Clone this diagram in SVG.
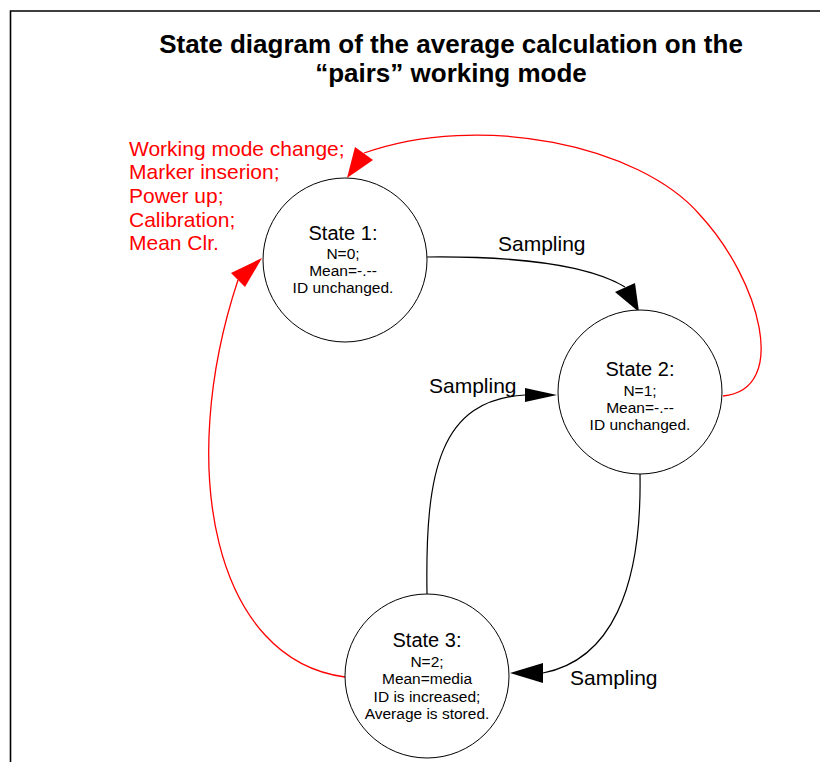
<svg xmlns="http://www.w3.org/2000/svg" width="830" height="762" viewBox="0 0 830 762">
  <style>
    .frame { fill: none; stroke: #000; stroke-width: 1.6; }
    .title { font-family: "Liberation Sans", Arial, sans-serif; font-size: 26px; font-weight: bold; fill: #000; text-anchor: middle; }
    .state { fill: #fff; stroke: #000; stroke-width: 1; }
    .head { font-family: "Liberation Sans", Arial, sans-serif; font-size: 20px; fill: #000; text-anchor: middle; }
    .body { font-family: "Liberation Sans", Arial, sans-serif; font-size: 15.5px; fill: #000; text-anchor: middle; }
    .lbl { font-family: "Liberation Sans", Arial, sans-serif; font-size: 21px; fill: #000; }
    .red-lbl { font-family: "Liberation Sans", Arial, sans-serif; font-size: 21px; fill: #ff0000; }
    .edge { fill: none; stroke: #000; stroke-width: 1.2; }
    .edge-red { fill: none; stroke: #ff0000; stroke-width: 1.3; }
    .tip { fill: #000; stroke: none; }
    .tip-red { fill: #ff0000; stroke: none; }
  </style>

  <rect x="0" y="0" width="830" height="762" fill="#fff"/>
  <!-- page frame: top and left edges only -->
  <path class="frame" d="M 10.5 762 L 10.5 11 L 820 11"/>

  <text class="title" x="451" y="53">State diagram of the average calculation on the</text>
  <text class="title" x="451" y="82">“pairs” working mode</text>

  <!-- transitions between the states -->
  <g id="connectors">
    <path class="edge" d="M 427 257 C 520 256, 590 266, 625 287"/>
    <polygon class="tip" points="639,312 615,292 635,283"/>
    <text class="lbl" x="498" y="251">Sampling</text>

    <path class="edge" d="M 427 594 C 425 470, 440 400, 525 395"/>
    <polygon class="tip" points="557,395 525,388 525,402"/>
    <text class="lbl" x="429" y="393">Sampling</text>

    <path class="edge" d="M 640 474 C 642 590, 610 660, 543 673"/>
    <polygon class="tip" points="510,673 543,663 543,683"/>
    <text class="lbl" x="570" y="685">Sampling</text>

    <!-- reset transitions (red) -->
    <path class="edge-red" d="M 723 396 C 790 390, 760 280, 700 215 C 640 145, 480 112, 364 153"/>
    <polygon class="tip-red" points="347,178 355,147 373,160"/>

    <path class="edge-red" d="M 345 677 C 215 660, 175 470, 238 280"/>
    <polygon class="tip-red" points="262,258 231,273 245,287"/>

    <text class="red-lbl" x="129" y="156">Working mode change;</text>
    <text class="red-lbl" x="129" y="179">Marker inserion;</text>
    <text class="red-lbl" x="129" y="203">Power up;</text>
    <text class="red-lbl" x="129" y="227">Calibration;</text>
    <text class="red-lbl" x="129" y="250">Mean Clr.</text>
  </g>

  <g id="state1">
    <circle class="state" cx="345" cy="260" r="82"/>
    <text class="head" x="343" y="240">State 1:</text>
    <text class="body" x="343" y="259">N=0;</text>
    <text class="body" x="343" y="276">Mean=-.--</text>
    <text class="body" x="343" y="293">ID unchanged.</text>
  </g>

  <g id="state2">
    <circle class="state" cx="640" cy="392" r="82"/>
    <text class="head" x="640" y="376">State 2:</text>
    <text class="body" x="640" y="396">N=1;</text>
    <text class="body" x="640" y="413">Mean=-.--</text>
    <text class="body" x="640" y="430">ID unchanged.</text>
  </g>

  <g id="state3">
    <circle class="state" cx="427" cy="676" r="82"/>
    <text class="head" x="427" y="647">State 3:</text>
    <text class="body" x="427" y="667">N=2;</text>
    <text class="body" x="427" y="684">Mean=media</text>
    <text class="body" x="427" y="702">ID is increased;</text>
    <text class="body" x="427" y="719">Average is stored.</text>
  </g>
</svg>
